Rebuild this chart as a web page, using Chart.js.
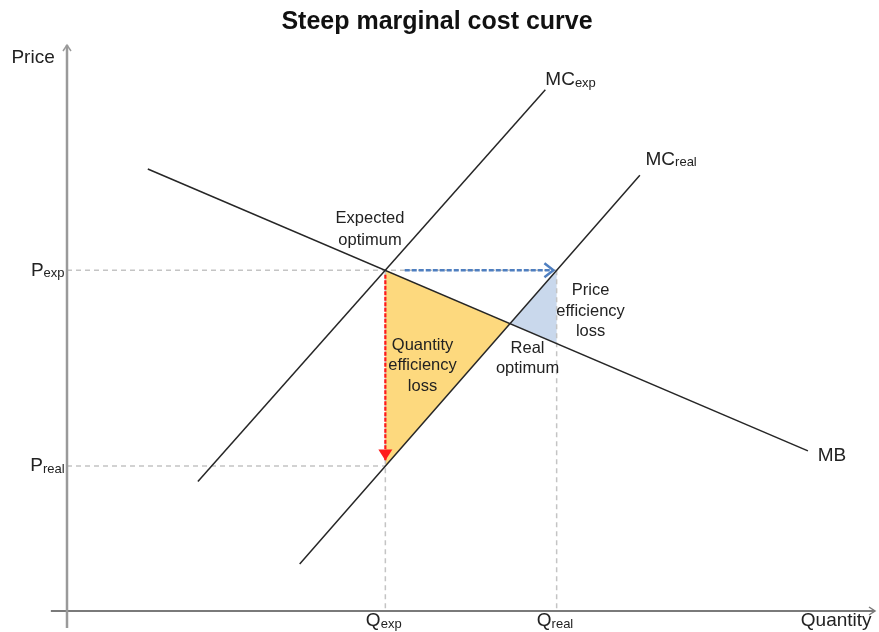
<!DOCTYPE html>
<html>
<head>
<meta charset="utf-8">
<script src="https://cdn.jsdelivr.net/npm/chart.js@4"></script>
<style>
  html, body { margin: 0; padding: 0; background: #fff; }
  #wrap { width: 879px; height: 632px; }
</style>
</head>
<body>
<div id="wrap"><canvas id="chart"></canvas></div>
<script>
// Kurva (x, y) dalam satuan sumbu 0..100
const mbX = [10, 91.7];
const mbY = [78.1, 28.3];
const mcExpX = [16.2, 59.2];
const mcExpY = [22.9, 92.1];
const mcRealX = [28.8, 70.9];
const mcRealY = [8.3, 77.0];

// Titik keseimbangan
const qExp = 39.4, qReal = 60.6;
const pExp = 60.2, pReal = 25.6;
const realOpt = [54.8, 50.8];
const mbAtQReal = 47.3;

// Area kerugian efisiensi
const qtyLossX = [qExp, realOpt[0], qExp, qExp];
const qtyLossY = [pExp, realOpt[1], pReal, pExp];
const priceLossX = [realOpt[0], qReal, qReal, realOpt[0]];
const priceLossY = [realOpt[1], pExp, mbAtQReal, realOpt[1]];

// Panah
const redArrowY = [59.4, 26.6];
const blueArrowX = [41.8, 60.2];

const pts = (xs, ys) => xs.map((x, i) => ({ x: x, y: ys[i] }));

function lineSet(data, color, width, extra) {
    return Object.assign({
        type: 'line',
        data: data,
        borderColor: color,
        borderWidth: width,
        pointRadius: 0,
        fill: false,
        tension: 0
    }, extra || {});
}

// Label teks: [teks, subskrip, x, y, align, jenis]
const labels = [
    ['Price', '', -4.2, 97.7, 'center', 'axis'],
    ['P', 'exp', -0.3, 60.2, 'right', 'axis'],
    ['P', 'real', -0.3, 25.6, 'right', 'axis'],
    ['Q', 'exp', 39.2, -1.8, 'center', 'axis'],
    ['Q', 'real', 60.4, -1.8, 'center', 'axis'],
    ['Quantity', '', 95.2, -1.8, 'center', 'axis'],
    ['MC', 'exp', 59.2, 93.8, 'left', 'axis'],
    ['MC', 'real', 71.6, 79.7, 'left', 'axis'],
    ['MB', '', 92.9, 27.4, 'left', 'axis'],
    ['Expected', '', 37.5, 69.4, 'center', 'note'],
    ['optimum', '', 37.5, 65.5, 'center', 'note'],
    ['Quantity', '', 44.0, 47.0, 'center', 'note'],
    ['efficiency', '', 44.0, 43.3, 'center', 'note'],
    ['loss', '', 44.0, 39.6, 'center', 'note'],
    ['Real', '', 57.0, 46.4, 'center', 'note'],
    ['optimum', '', 57.0, 42.8, 'center', 'note'],
    ['Price', '', 64.8, 56.6, 'center', 'note'],
    ['efficiency', '', 64.8, 53.0, 'center', 'note'],
    ['loss', '', 64.8, 49.4, 'center', 'note']
];

const FONT = '"Liberation Sans", Arial, sans-serif';

// Plugin untuk kepala panah
const arrowPlugin = {
    id: 'arrows',
    afterDatasetsDraw(chart) {
        const ctx = chart.ctx;
        chart.data.datasets.forEach((ds, i) => {
            if (!ds.arrow) return;
            const meta = chart.getDatasetMeta(i);
            const n = meta.data.length;
            const a = meta.data[n - 2], b = meta.data[n - 1];
            const ang = Math.atan2(b.y - a.y, b.x - a.x);
            const len = ds.arrow.len, half = ds.arrow.half;
            const p1 = [b.x - len * Math.cos(ang) + half * Math.sin(ang), b.y - len * Math.sin(ang) - half * Math.cos(ang)];
            const p2 = [b.x - len * Math.cos(ang) - half * Math.sin(ang), b.y - len * Math.sin(ang) + half * Math.cos(ang)];
            ctx.save();
            ctx.setLineDash([]);
            ctx.strokeStyle = ds.borderColor;
            ctx.fillStyle = ds.borderColor;
            ctx.lineWidth = ds.arrow.width;
            ctx.beginPath();
            ctx.moveTo(p1[0], p1[1]);
            ctx.lineTo(b.x, b.y);
            ctx.lineTo(p2[0], p2[1]);
            if (ds.arrow.filled) {
                ctx.closePath();
                ctx.fill();
            } else {
                ctx.stroke();
            }
            ctx.restore();
        });
    }
};

// Plugin untuk judul dan label
const textPlugin = {
    id: 'texts',
    afterDraw(chart) {
        const ctx = chart.ctx;
        const xs = chart.scales.x, ys = chart.scales.y;
        ctx.save();
        ctx.fillStyle = '#111';
        ctx.textBaseline = 'middle';
        ctx.textAlign = 'center';
        ctx.font = 'bold 25px ' + FONT;
        ctx.fillText('Steep marginal cost curve', 437, 22);

        ctx.fillStyle = '#222';
        labels.forEach(([t, sub, x, y, align, kind]) => {
            const px = xs.getPixelForValue(x), py = ys.getPixelForValue(y);
            const main = kind === 'axis' ? '19px ' : '16.5px ';
            if (!sub) {
                ctx.font = main + FONT;
                ctx.textAlign = align;
                ctx.fillText(t, px, py);
                return;
            }
            ctx.font = main + FONT;
            const w1 = ctx.measureText(t).width;
            ctx.font = '13px ' + FONT;
            const w2 = ctx.measureText(sub).width;
            let x0 = px;
            if (align === 'center') x0 = px - (w1 + w2) / 2;
            if (align === 'right') x0 = px - (w1 + w2);
            ctx.textAlign = 'left';
            ctx.font = main + FONT;
            ctx.fillText(t, x0, py);
            ctx.font = '13px ' + FONT;
            ctx.fillText(sub, x0 + w1, py + 3);
        });
        ctx.restore();
    }
};

const guide = { borderDash: [5, 4], order: 4 };

new Chart(document.getElementById('chart'), {
    type: 'scatter',
    data: {
        datasets: [
            // area
            lineSet(pts(qtyLossX, qtyLossY), 'rgba(0,0,0,0)', 0, { fill: 'shape', backgroundColor: '#fdd97e', order: 6 }),
            lineSet(pts(priceLossX, priceLossY), 'rgba(0,0,0,0)', 0, { fill: 'shape', backgroundColor: '#c9d8ec', order: 6 }),
            // garis bantu putus-putus
            lineSet(pts([0, qReal], [pExp, pExp]), '#c4c4c4', 1.5, guide),
            lineSet(pts([0, qExp], [pReal, pReal]), '#c4c4c4', 1.5, guide),
            lineSet(pts([qExp, qExp], [pExp, 0]), '#c4c4c4', 1.5, guide),
            lineSet(pts([qReal, qReal], [pExp, 0]), '#c4c4c4', 1.5, guide),
            // sumbu
            lineSet(pts([0, 0], [-3, 100]), '#9a9a9a', 2.5, { clip: false, order: 3, arrow: { len: 6, half: 4, width: 1.5 } }),
            lineSet(pts([-2, 100], [0, 0]), '#7a7a7a', 2, { clip: false, order: 3, arrow: { len: 6, half: 4, width: 1.5 } }),
            // kurva
            lineSet(pts(mbX, mbY), '#262626', 1.5, { order: 2 }),
            lineSet(pts(mcExpX, mcExpY), '#262626', 1.5, { order: 2 }),
            lineSet(pts(mcRealX, mcRealY), '#262626', 1.5, { order: 2 }),
            // panah
            lineSet(pts([qExp, qExp], redArrowY), '#ff1a1a', 2.2, { borderDash: [4, 1.5], order: 1, arrow: { len: 11, half: 7, width: 1, filled: true } }),
            lineSet(pts(blueArrowX, [pExp, pExp]), '#4f7fc0', 2.5, { borderDash: [5, 2], order: 1, arrow: { len: 9, half: 7, width: 2.5 } })
        ]
    },
    options: {
        responsive: true,
        maintainAspectRatio: false,
        animation: false,
        layout: { padding: { left: 67, right: 4, top: 45, bottom: 21 } },
        scales: {
            x: { type: 'linear', min: 0, max: 100, display: false },
            y: { type: 'linear', min: 0, max: 100, display: false }
        },
        plugins: {
            legend: { display: false },
            tooltip: { enabled: false }
        }
    },
    plugins: [arrowPlugin, textPlugin]
});
</script>
</body>
</html>
